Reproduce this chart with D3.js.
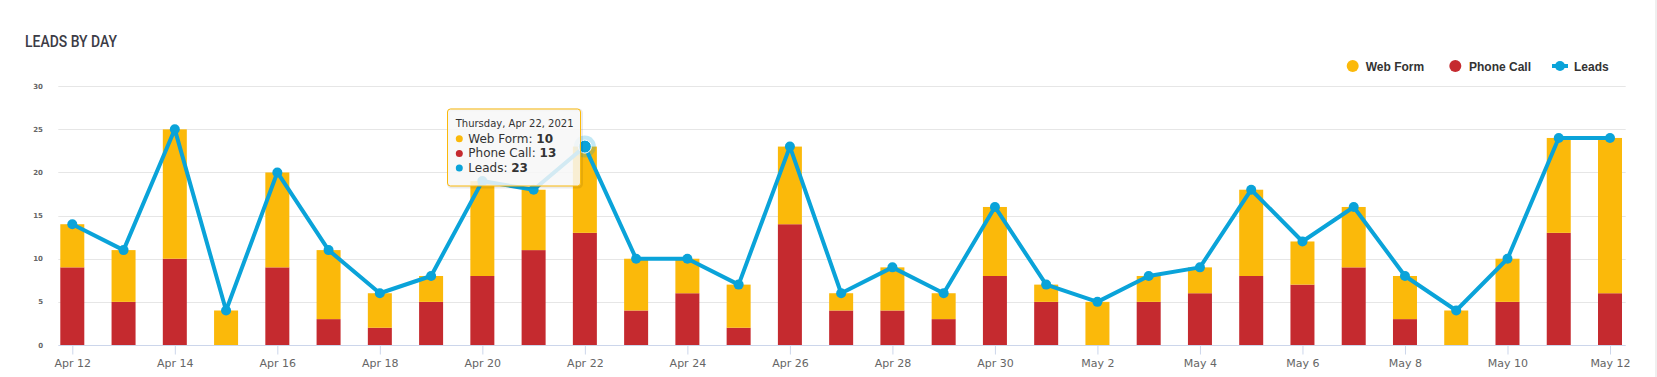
<!DOCTYPE html>
<html>
<head>
<meta charset="utf-8">
<script src="https://cdn.jsdelivr.net/npm/d3@7"></script>
<style>
  html, body { margin: 0; padding: 0; background: #fff; }
  svg { display: block; }
</style>
</head>
<body>
<svg id="chart" width="1657" height="377"></svg>
<script>
const dates = ["2021-04-12","2021-04-13","2021-04-14","2021-04-15","2021-04-16","2021-04-17","2021-04-18","2021-04-19","2021-04-20","2021-04-21","2021-04-22","2021-04-23","2021-04-24","2021-04-25","2021-04-26","2021-04-27","2021-04-28","2021-04-29","2021-04-30","2021-05-01","2021-05-02","2021-05-03","2021-05-04","2021-05-05","2021-05-06","2021-05-07","2021-05-08","2021-05-09","2021-05-10","2021-05-11","2021-05-12"];
const webForm   = [5,6,15,4,11,8,4,3,11,7,10,6,4,5,9,2,5,3,8,2,5,3,3,10,5,7,5,4,5,11,18];
const phoneCall = [9,5,10,0,9,3,2,5,8,11,13,4,6,2,14,4,4,3,8,5,0,5,6,8,7,9,3,0,5,13,6];
const leads     = [14,11,25,4,20,11,6,8,19,18,23,10,10,7,23,6,9,6,16,7,5,8,9,18,12,16,8,4,10,24,24];
const xTickDates = ["2021-04-12","2021-04-14","2021-04-16","2021-04-18","2021-04-20","2021-04-22","2021-04-24","2021-04-26","2021-04-28","2021-04-30","2021-05-02","2021-05-04","2021-05-06","2021-05-08","2021-05-10","2021-05-12"];
const xTickLabels = ["Apr 12","Apr 14","Apr 16","Apr 18","Apr 20","Apr 22","Apr 24","Apr 26","Apr 28","Apr 30","May 2","May 4","May 6","May 8","May 10","May 12"];
const yTicks = [0,5,10,15,20,25,30];
const seriesNames = ["Web Form","Phone Call","Leads"];
const tooltipIndex = 10;
const tooltipTitle = "Thursday, Apr 22, 2021";

const colors = { web: "#fbb90a", phone: "#c52a2f", leads: "#0aa3d9" };

const svg = d3.select("#chart");
const plotLeft = 58.3, plotRight = 1625.7, plotTop = 86.2, plotBottom = 345;

const x = d3.scalePoint().domain(dates).range([72.3, 1610]);
const y = d3.scaleLinear().domain([0, 30]).range([plotBottom, plotTop]);
const barW = 24;

// right strip
svg.append("rect").attr("x", 1655).attr("y", 0).attr("width", 2).attr("height", 377).attr("fill", "#efefef");

// title
svg.append("text").attr("x", 25).attr("y", 47)
  .attr("font-family", "Roboto, 'Open Sans', sans-serif").attr("font-size", 16.5).attr("font-weight", 500)
  .attr("fill", "#3c3c46").attr("textLength", 92).attr("lengthAdjust", "spacingAndGlyphs")
  .text("LEADS BY DAY");

// gridlines
svg.append("g").selectAll("line").data(yTicks.filter(d => d > 0)).join("line")
  .attr("x1", plotLeft).attr("x2", plotRight)
  .attr("y1", d => Math.round(y(d)) + 0.5).attr("y2", d => Math.round(y(d)) + 0.5)
  .attr("stroke", "#e6e6e6").attr("stroke-width", 1);

// y labels
svg.append("g").selectAll("text").data(yTicks).join("text")
  .attr("x", 43).attr("y", d => y(d) + 2.5)
  .attr("text-anchor", "end")
  .attr("font-family", "'DejaVu Sans', sans-serif").attr("font-size", 7).attr("font-weight", "bold")
  .attr("fill", "#666").text(d => d);

// bars (stacked: phone at bottom, web on top)
const gBars = svg.append("g");
dates.forEach((d, i) => {
  gBars.append("rect")
    .attr("x", x(d) - barW / 2).attr("width", barW)
    .attr("y", y(phoneCall[i])).attr("height", y(0) - y(phoneCall[i]))
    .attr("fill", colors.phone);
  gBars.append("rect")
    .attr("x", x(d) - barW / 2).attr("width", barW)
    .attr("y", y(phoneCall[i] + webForm[i])).attr("height", y(phoneCall[i]) - y(phoneCall[i] + webForm[i]))
    .attr("fill", colors.web);
});

// x axis
const xAxis = d3.axisBottom(x).tickValues(xTickDates)
  .tickFormat(d => xTickLabels[xTickDates.indexOf(d)]).tickSize(9).tickSizeOuter(0).tickPadding(5);
const gx = svg.append("g").attr("transform", `translate(0,${plotBottom + 0.5})`).call(xAxis);
gx.select(".domain").attr("d", `M${plotLeft},0H${plotRight}`).attr("stroke", "#ccd6eb");
gx.selectAll(".tick line").attr("stroke", "#ccd6eb");
gx.selectAll(".tick text").attr("font-family", "'DejaVu Sans', sans-serif").attr("font-size", 11).attr("fill", "#666");

// line
const line = d3.line().x((d, i) => x(dates[i])).y(d => y(d));
svg.append("path").datum(leads).attr("d", line)
  .attr("fill", "none").attr("stroke", colors.leads).attr("stroke-width", 4)
  .attr("stroke-linejoin", "round").attr("stroke-linecap", "round");
svg.append("g").selectAll("circle").data(leads).join("circle")
  .attr("cx", (d, i) => x(dates[i])).attr("cy", d => y(d)).attr("r", 5)
  .attr("fill", colors.leads);

// hovered point
const hx = x(dates[tooltipIndex]), hy = y(leads[tooltipIndex]);
svg.append("circle").attr("cx", hx).attr("cy", hy).attr("r", 11).attr("fill", colors.leads).attr("opacity", 0.25);
svg.append("circle").attr("cx", hx).attr("cy", hy).attr("r", 6.5).attr("fill", colors.leads).attr("stroke", "#fff").attr("stroke-width", 1);

// legend
const legend = svg.append("g").attr("font-family", "'Liberation Sans', Arial, sans-serif").attr("font-size", 12).attr("font-weight", "bold").attr("fill", "#333");
const ly = 66;
legend.append("circle").attr("cx", 1352.7).attr("cy", ly).attr("r", 6).attr("fill", colors.web);
legend.append("text").attr("x", 1365.7).attr("y", ly + 4.5).text(seriesNames[0]);
legend.append("circle").attr("cx", 1455.3).attr("cy", ly).attr("r", 6).attr("fill", colors.phone);
legend.append("text").attr("x", 1469).attr("y", ly + 4.5).text(seriesNames[1]);
legend.append("line").attr("x1", 1552).attr("x2", 1568).attr("y1", ly).attr("y2", ly).attr("stroke", colors.leads).attr("stroke-width", 4);
legend.append("circle").attr("cx", 1560).attr("cy", ly).attr("r", 5).attr("fill", colors.leads);
legend.append("text").attr("x", 1574).attr("y", ly + 4.5).text(seriesNames[2]);

// tooltip
const tt = svg.append("g").attr("transform", "translate(447.5,109)");
tt.append("rect").attr("x", 1).attr("y", 1).attr("width", 133).attr("height", 77).attr("rx", 3)
  .attr("fill", "none").attr("stroke", "#000").attr("stroke-opacity", 0.08).attr("stroke-width", 3);
tt.append("rect").attr("width", 133).attr("height", 77).attr("rx", 3)
  .attr("fill", "rgba(247,247,247,0.85)").attr("stroke", colors.web).attr("stroke-width", 1);
const ttFont = "'DejaVu Sans', Verdana, sans-serif";
tt.append("text").attr("x", 8.2).attr("y", 18.3).attr("font-family", ttFont).attr("font-size", 10).attr("fill", "#333").text(tooltipTitle);
const ttRows = [
  { name: seriesNames[0], v: webForm[tooltipIndex], c: colors.web },
  { name: seriesNames[1], v: phoneCall[tooltipIndex], c: colors.phone },
  { name: seriesNames[2], v: leads[tooltipIndex], c: colors.leads }
];
ttRows.forEach((r, i) => {
  const by = 33.7 + i * 14.7;
  tt.append("circle").attr("cx", 11.8).attr("cy", by - 4).attr("r", 3.5).attr("fill", r.c);
  const t = tt.append("text").attr("x", 20.8).attr("y", by).attr("font-family", ttFont).attr("font-size", 12).attr("fill", "#333");
  t.append("tspan").text(r.name + ": ");
  t.append("tspan").attr("font-weight", "bold").text(r.v);
});
</script>
</body>
</html>
